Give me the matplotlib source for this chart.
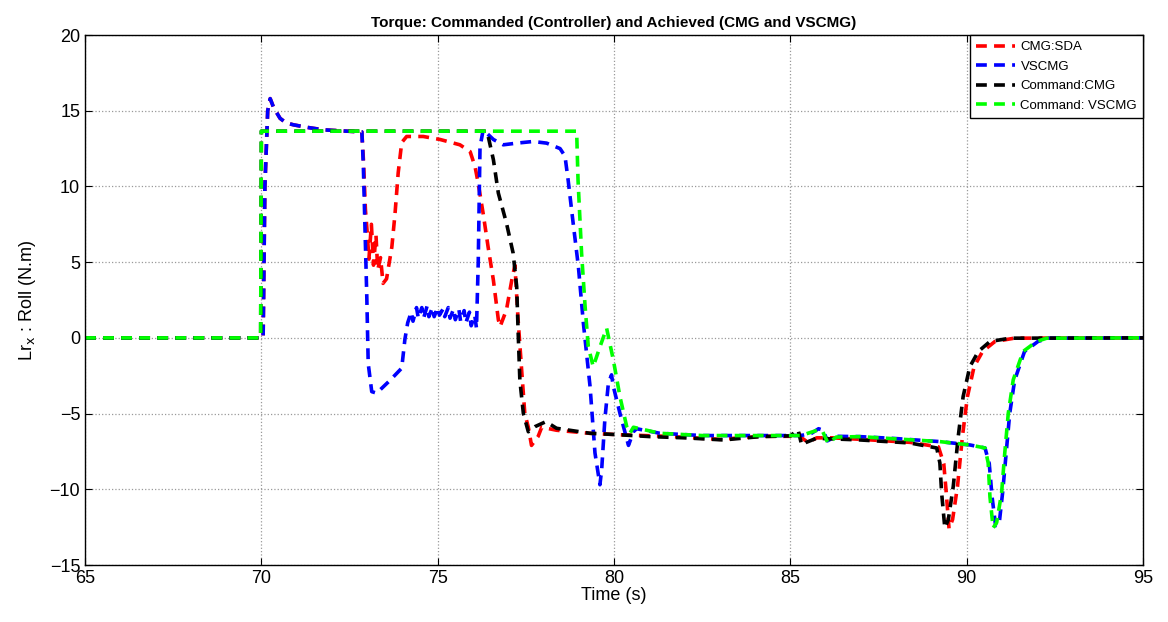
import matplotlib
matplotlib.use("Agg")
import matplotlib.pyplot as plt

plt.rcParams['font.family'] = ['Liberation Sans', 'DejaVu Sans']

# CMG:SDA achieved torque
t_cmg = [65, 70.05, 70.1, 70.18, 70.25, 70.35, 70.53, 70.7, 70.91, 71.3, 71.76, 72.2, 72.6,
         72.85, 72.9, 72.95, 73.0, 73.05, 73.12, 73.18, 73.25, 73.3, 73.38, 73.45, 73.55,
         73.7, 73.79, 73.88, 73.98, 74.12, 74.59, 75.07, 75.63, 75.92, 76.06, 76.15, 76.29,
         76.43, 76.58, 76.72, 76.77, 76.95, 77.1, 77.19, 77.28, 77.38, 77.47, 77.57, 77.66,
         77.85, 77.95, 78.37, 79.3, 80.2, 81.5, 83.0, 84.2, 85.0, 85.22, 85.32, 85.5, 85.75,
         86.2, 87.0, 88.4, 89.2, 89.35, 89.42, 89.5, 89.6, 89.74, 89.88, 90.02, 90.21, 90.45,
         90.8, 91.35, 95]
l_cmg = [0, 0, 10.0, 15.0, 15.8, 15.2, 14.5, 14.2, 14.07, 13.9, 13.74, 13.68, 13.63,
         13.6, 11.5, 8.5, 7.0, 5.2, 7.5, 4.8, 6.8, 4.5, 5.3, 3.6, 3.9,
         6.0, 8.2, 10.9, 12.9, 13.3, 13.3, 13.1, 12.75, 12.3, 11.3, 10.2, 8.2,
         6.0, 3.8, 1.2, 0.75, 1.85, 3.8, 4.8, 1.2, -2.1, -5.0, -5.9, -7.1,
         -6.5, -5.9, -6.1, -6.3, -6.4, -6.5, -6.7, -6.5, -6.5, -6.2, -6.6, -6.9, -6.6,
         -6.6, -6.7, -6.9, -7.2, -8.3, -10.2, -12.6, -12.0, -9.8, -6.5, -3.9, -1.9, -0.9,
         -0.24, -0.02, 0]

# VSCMG achieved torque
t_vscmg = [65, 70.05, 70.1, 70.18, 70.25, 70.35, 70.53, 70.7, 70.91, 71.3, 71.76, 72.2, 72.6,
           72.85, 72.89, 72.94, 72.99, 73.03, 73.13, 73.27, 73.65, 73.98, 74.07, 74.15,
           74.25, 74.3, 74.4, 74.45, 74.55, 74.6, 74.7, 74.75, 74.85, 74.9, 75.0, 75.05,
           75.15, 75.2, 75.3, 75.35, 75.45, 75.5, 75.6, 75.65, 75.75, 75.8, 75.9, 75.95,
           76.05, 76.1, 76.15, 76.2, 76.29, 76.58, 76.86, 77.24, 77.71, 78.09, 78.47, 78.61,
           78.7, 78.84, 78.99, 79.13, 79.22, 79.32, 79.46, 79.6, 79.65, 79.74, 79.84, 79.93,
           79.98, 80.17, 80.41, 80.55, 80.64, 81.3, 82.5, 84.0, 85.3, 85.6, 85.8, 85.93,
           86.05, 86.3, 86.97, 88.0, 89.24, 90.09, 90.52, 90.64, 90.72, 90.82, 90.92, 91.02,
           91.12, 91.22, 91.36, 91.64, 92.02, 92.32, 95]
l_vscmg = [0, 0, 10.0, 15.0, 15.8, 15.2, 14.5, 14.2, 14.07, 13.9, 13.74, 13.68, 13.63,
           13.6, 11.5, 7.1, 2.7, -1.7, -3.55, -3.65, -2.8, -2.0, -0.1, 1.0,
           1.7, 1.1, 2.0, 1.3, 2.0, 1.3, 2.1, 1.4, 2.0, 1.4, 2.0, 1.5,
           1.9, 1.4, 2.0, 1.3, 1.9, 1.2, 1.9, 1.1, 1.8, 1.0, 1.7, 0.8,
           1.5, 0.64, 5.0, 12.6, 13.74, 13.1, 12.75, 12.86, 12.97, 12.86, 12.5, 12.0,
           10.4, 7.6, 4.7, 1.0, -1.0, -3.2, -7.6, -9.7, -8.7, -5.4, -3.0, -2.44,
           -3.2, -5.0, -7.1, -6.2, -6.0, -6.3, -6.45, -6.45, -6.45, -6.3, -6.0, -6.1,
           -6.8, -6.5, -6.52, -6.65, -6.85, -7.07, -7.27, -8.3, -10.5, -12.4, -12.3, -10.2,
           -7.6, -5.0, -2.8, -0.9, -0.24, -0.02, 0]

# Controller command for the CMG
t_cmd_cmg = [65, 69.98, 70.0, 76.4, 76.58, 76.72, 76.95, 77.14, 77.24, 77.28, 77.33, 77.43,
             77.5, 77.57, 77.76, 78.07, 78.37, 79.32, 80.17, 81.02, 82.0, 83.1, 84.14, 85.0,
             85.22, 85.32, 85.45, 85.74, 86.97, 88.39, 89.15, 89.24, 89.29, 89.38, 89.48,
             89.62, 89.76, 89.9, 90.09, 90.33, 90.66, 91.23, 95]
l_cmd_cmg = [0, 0, 13.65, 13.65, 11.76, 9.56, 7.58, 5.59, 3.39, 0.5, -2.8, -5.0,
             -5.6, -6.2, -5.86, -5.53, -5.97, -6.3, -6.4, -6.52, -6.6, -6.74, -6.52, -6.47,
             -6.08, -7.07, -6.9, -6.63, -6.74, -6.94, -7.27, -8.26, -10.24, -12.55, -12.0,
             -9.8, -6.52, -3.87, -1.9, -0.9, -0.24, -0.02, 0]

# Controller command for the VSCMG
t_cmd_vscmg = [65, 69.98, 70.0, 78.94, 78.98, 79.08, 79.18, 79.27, 79.41, 79.6, 79.79, 79.98,
               80.17, 80.36, 80.45, 80.55, 81.3, 82.5, 84.0, 85.3, 85.79, 85.9, 86.07, 86.3,
               86.97, 89.24, 90.09, 90.52, 90.61, 90.66, 90.75, 90.85, 90.99, 91.08, 91.18,
               91.32, 91.6, 91.98, 92.27, 95]
l_cmd_vscmg = [0, 0, 13.65, 13.65, 10.4, 5.6, 2.07, -0.57, -1.9, -0.6, 0.64, -1.45,
               -3.9, -5.86, -6.3, -5.9, -6.3, -6.45, -6.45, -6.45, -6.08, -6.1, -6.96, -6.55,
               -6.52, -6.85, -7.07, -7.27, -8.26, -10.5, -12.55, -12.2, -10.24, -7.6, -4.98,
               -2.77, -0.9, -0.24, -0.02, 0]

fig = plt.figure(figsize=(11.68, 6.22), dpi=100)
ax = fig.add_axes([0.0728, 0.0916, 0.9058, 0.8521])

lw = 2.6
dash = (3.0, 2.0)
ax.plot(t_cmg, l_cmg, '--', dashes=dash, color='#ff0000', lw=lw, label='CMG:SDA')
ax.plot(t_vscmg, l_vscmg, '--', dashes=dash, color='#0000ff', lw=lw, label='VSCMG')
ax.plot(t_cmd_cmg, l_cmd_cmg, '--', dashes=dash, color='#000000', lw=lw, label='Command:CMG')
ax.plot(t_cmd_vscmg, l_cmd_vscmg, '--', dashes=dash, color='#00ff00', lw=lw,
        label='Command: VSCMG')

ax.set_xlim(65, 95)
ax.set_ylim(-15, 20)
ax.set_xticks(range(65, 96, 5))
ax.set_yticks(range(-15, 21, 5))
ax.grid(True, linestyle=':', color='#999999', linewidth=0.9)
ax.tick_params(direction='in', labelsize=13, length=5, top=True, right=True)
for sp in ax.spines.values():
    sp.set_linewidth(1.0)

ax.set_xlabel('Time (s)', fontsize=13, labelpad=0)
ax.set_ylabel(r'Lr$_{\mathrm{x}}$ : Roll (N.m)', fontsize=13, labelpad=8)
ax.set_title('Torque: Commanded (Controller) and Achieved (CMG and VSCMG)',
             fontsize=11, fontweight='bold', pad=6)

leg = ax.legend(loc='upper right', fontsize=9.5, borderaxespad=0, fancybox=False,
                framealpha=1, edgecolor='black', handlelength=3.0, handletextpad=0.4,
                borderpad=0.45, labelspacing=0.55)
leg.get_frame().set_linewidth(1.0)

fig.savefig('out.png', dpi=100)
